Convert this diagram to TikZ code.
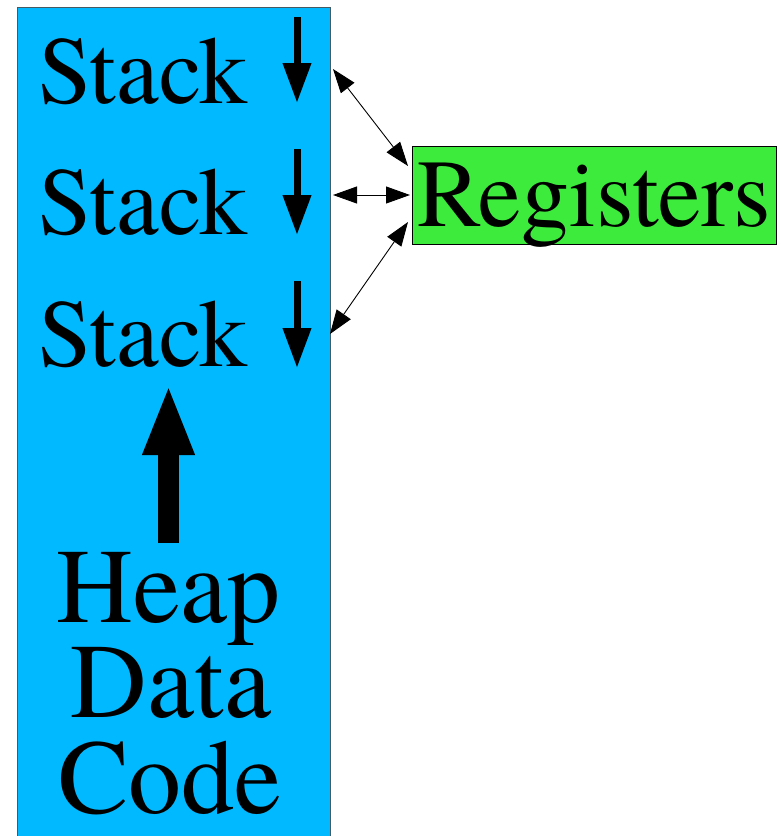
\documentclass[tikz,border=0pt]{standalone}
\usepackage{fontspec}
\setmainfont{texgyretermes}[Extension=.otf,UprightFont=*-regular,BoldFont=*-bold,ItalicFont=*-italic,BoldItalicFont=*-bolditalic]
\usetikzlibrary{arrows.meta}
\definecolor{memblue}{RGB}{0,185,255}
\definecolor{reggreen}{RGB}{61,235,61}
\definecolor{edgegray}{RGB}{70,90,100}
\begin{document}
\begin{tikzpicture}[x=1pt,y=-1pt,
  stacktext/.style={anchor=base,inner sep=0pt,font=\rmfamily\fontsize{96}{96}\selectfont},
  bigtext/.style={anchor=base,inner sep=0pt,font=\rmfamily\fontsize{106}{96}\selectfont},
  growarrow/.style={line width=7pt,-{Triangle[length=40pt,width=27pt]}},
  link/.style={line width=0.9pt,{Triangle[length=24pt,width=17pt]}-{Triangle[length=24pt,width=17pt]}}]
\useasboundingbox (0,0) rectangle (782,836);
% memory column
\node[draw=edgegray,line width=1pt,fill=memblue,minimum width=313pt,minimum height=840pt,inner sep=0pt,anchor=north west] (mem) at (17,7) {};
% registers box
\node[draw=black,line width=1pt,fill=reggreen,minimum width=364pt,minimum height=98pt,inner sep=0pt] (regbox) at (594,195) {};
\node[stacktext] (regtext) at (594,226) {Registers};
% stacks
\node[stacktext] (s1) at (143,103) {Stack};
\node[stacktext] (s2) at (143,234) {Stack};
\node[stacktext] (s3) at (143,366) {Stack};
% stack growth arrows
\coordinate (a1s) at (297,17);  \coordinate (a1e) at (297,103);
\coordinate (a2s) at (297,149); \coordinate (a2e) at (297,235);
\coordinate (a3s) at (297,281); \coordinate (a3e) at (297,368);
\draw[growarrow] (a1s) -- (a1e);
\draw[growarrow] (a2s) -- (a2e);
\draw[growarrow] (a3s) -- (a3e);
% heap growth arrow
\coordinate (hs) at (168.5,543);
\coordinate (he) at (168.5,384);
\draw[line width=21pt,-{Triangle[length=71pt,width=47pt]}] (hs) -- (he);
% heap data code
\node[bigtext] (heap) at (168.5,622) {Heap};
\node[bigtext] (data) at (171,717) {Data};
\node[bigtext] (code) at (170,813) {Code};
% links to registers
\coordinate (l1) at (333,69);  \coordinate (r1) at (408,166);
\coordinate (l2) at (333,195); \coordinate (r2) at (410,195);
\coordinate (l3) at (330,334); \coordinate (r3) at (408,222);
\draw[link] (l1) -- (r1);
\draw[link] (l2) -- (r2);
\draw[link] (l3) -- (r3);
\end{tikzpicture}
\end{document}
